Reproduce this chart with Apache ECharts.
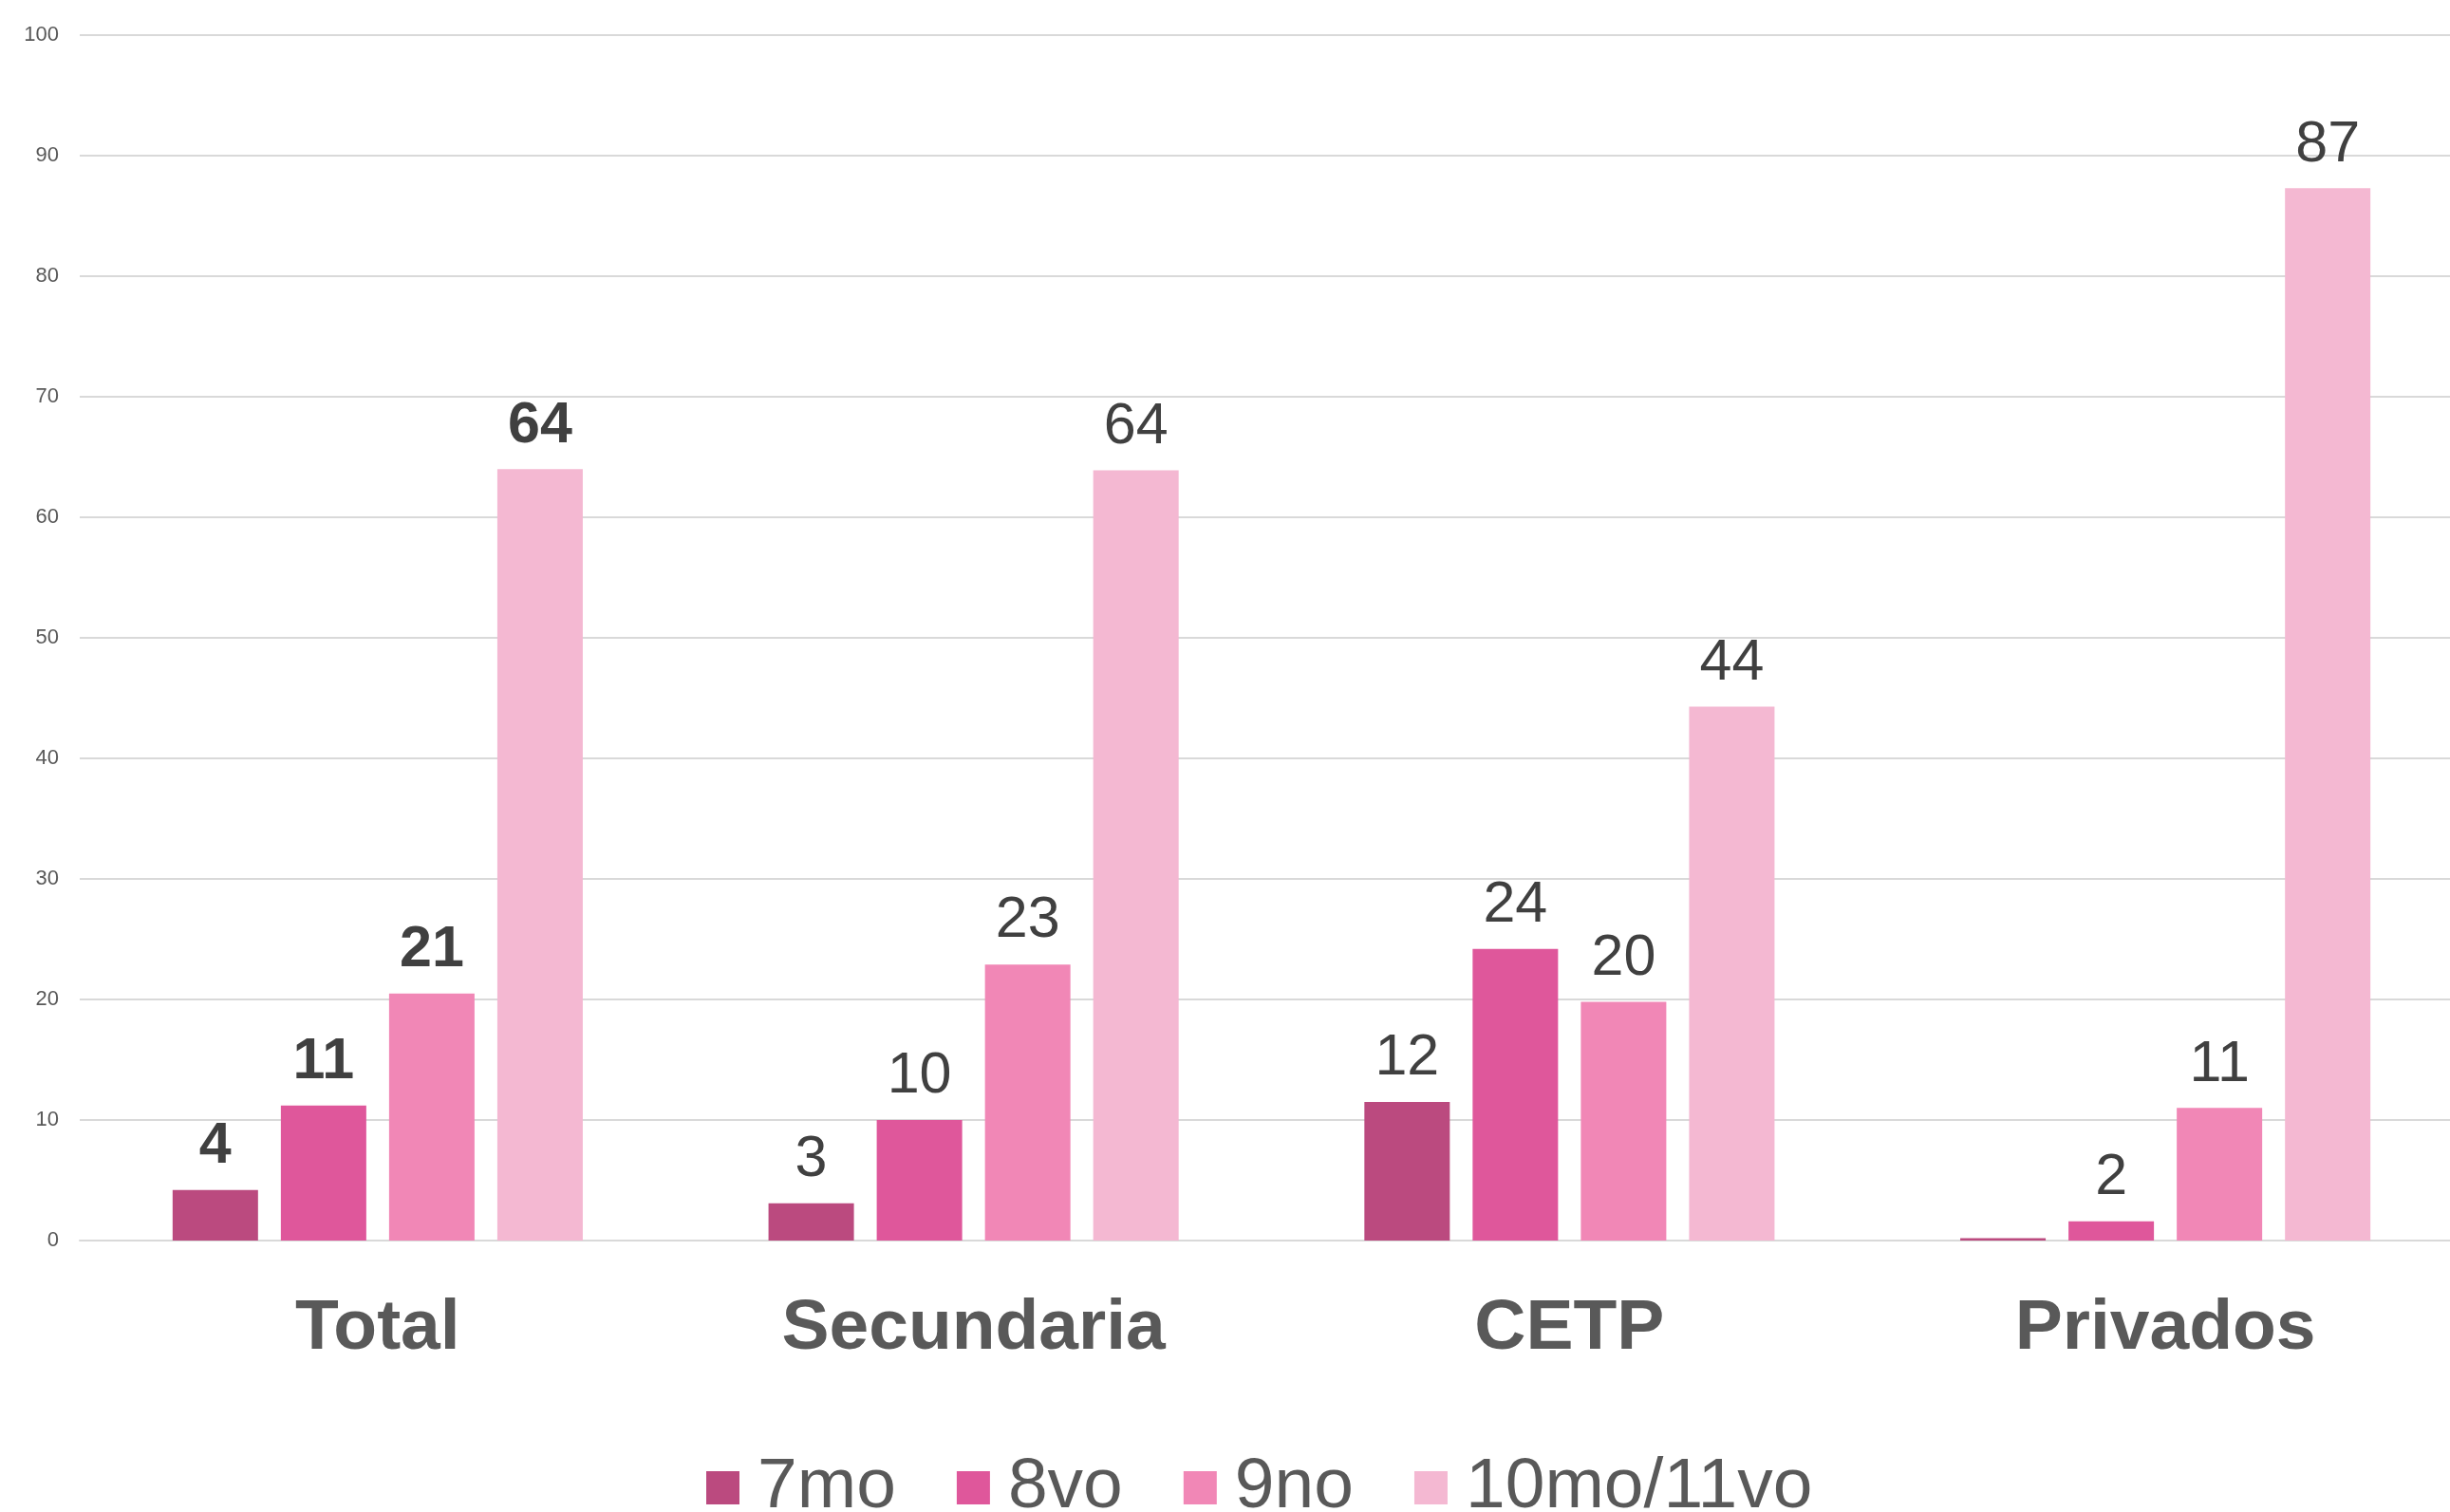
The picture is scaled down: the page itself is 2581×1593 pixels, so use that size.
<!DOCTYPE html>
<html>
<head>
<meta charset="utf-8">
<script src="https://cdn.jsdelivr.net/npm/echarts@6/dist/echarts.min.js"></script>
<style>
html,body{margin:0;padding:0;background:#fff;overflow:hidden;}
#chart{width:2600px;height:1593px;}
</style>
</head>
<body>
<div id="chart"></div>
<script>
var categories = ['Total', 'Secundaria', 'CETP', 'Privados'];
var seriesNames = ['7mo', '8vo', '9no', '10mo/11vo'];
var s7mo = [4.2, 3.1, 11.5, 0.2];
var s8vo = [11.2, 10.0, 24.2, 1.6];
var s9no = [20.5, 22.9, 19.8, 11.0];
var s10mo = [64.0, 63.9, 44.3, 87.3];
var yTicks = [0, 10, 20, 30, 40, 50, 60, 70, 80, 90, 100];
var colors = ['#BB4A7F', '#DF579B', '#F187B6', '#F4B8D2'];

var allValues = [s7mo, s8vo, s9no, s10mo];
var FONT = '"Liberation Sans", Arial, sans-serif';

function buildData(arr) {
  return arr.map(function (v, i) {
    return {
      value: v,
      label: { fontWeight: i === 0 ? 'bold' : 'normal' }
    };
  });
}

var series = seriesNames.map(function (name, k) {
  return {
    name: name,
    type: 'bar',
    data: buildData(allValues[k]),
    barWidth: 90,
    barGap: '26.7%',
    itemStyle: { color: colors[k] },
    label: {
      show: true,
      position: 'top',
      distance: 15,
      fontFamily: FONT,
      fontSize: 61,
      color: '#404040',
      formatter: function (p) {
        return p.value < 0.5 ? '' : String(Math.round(p.value));
      }
    }
  };
});

var chart = echarts.init(document.getElementById('chart'));
chart.setOption({
  animation: false,
  backgroundColor: '#ffffff',
  color: colors,
  grid: { left: 84, top: 37, width: 2511, height: 1270, containLabel: false },
  legend: {
    data: seriesNames,
    left: 744,
    top: 1530,
    padding: 0,
    icon: 'rect',
    itemWidth: 35,
    itemHeight: 35,
    itemGap: 64,
    textStyle: { fontFamily: FONT, fontSize: 75, color: '#595959', padding: [0, 0, 0, 14] }
  },
  xAxis: {
    type: 'category',
    data: categories,
    axisLine: { show: true, lineStyle: { color: '#D9D9D9', width: 2 } },
    axisTick: { show: false },
    axisLabel: {
      margin: 56,
      fontFamily: FONT,
      fontSize: 75,
      fontWeight: 'bold',
      color: '#595959'
    }
  },
  yAxis: {
    type: 'value',
    min: yTicks[0],
    max: yTicks[yTicks.length - 1],
    interval: yTicks[1] - yTicks[0],
    axisLine: { show: false },
    axisTick: { show: false },
    splitLine: { lineStyle: { color: '#D9D9D9', width: 2 } },
    axisLabel: {
      margin: 22,
      fontFamily: FONT,
      fontSize: 22,
      color: '#595959'
    }
  },
  series: series
});
</script>
</body>
</html>
